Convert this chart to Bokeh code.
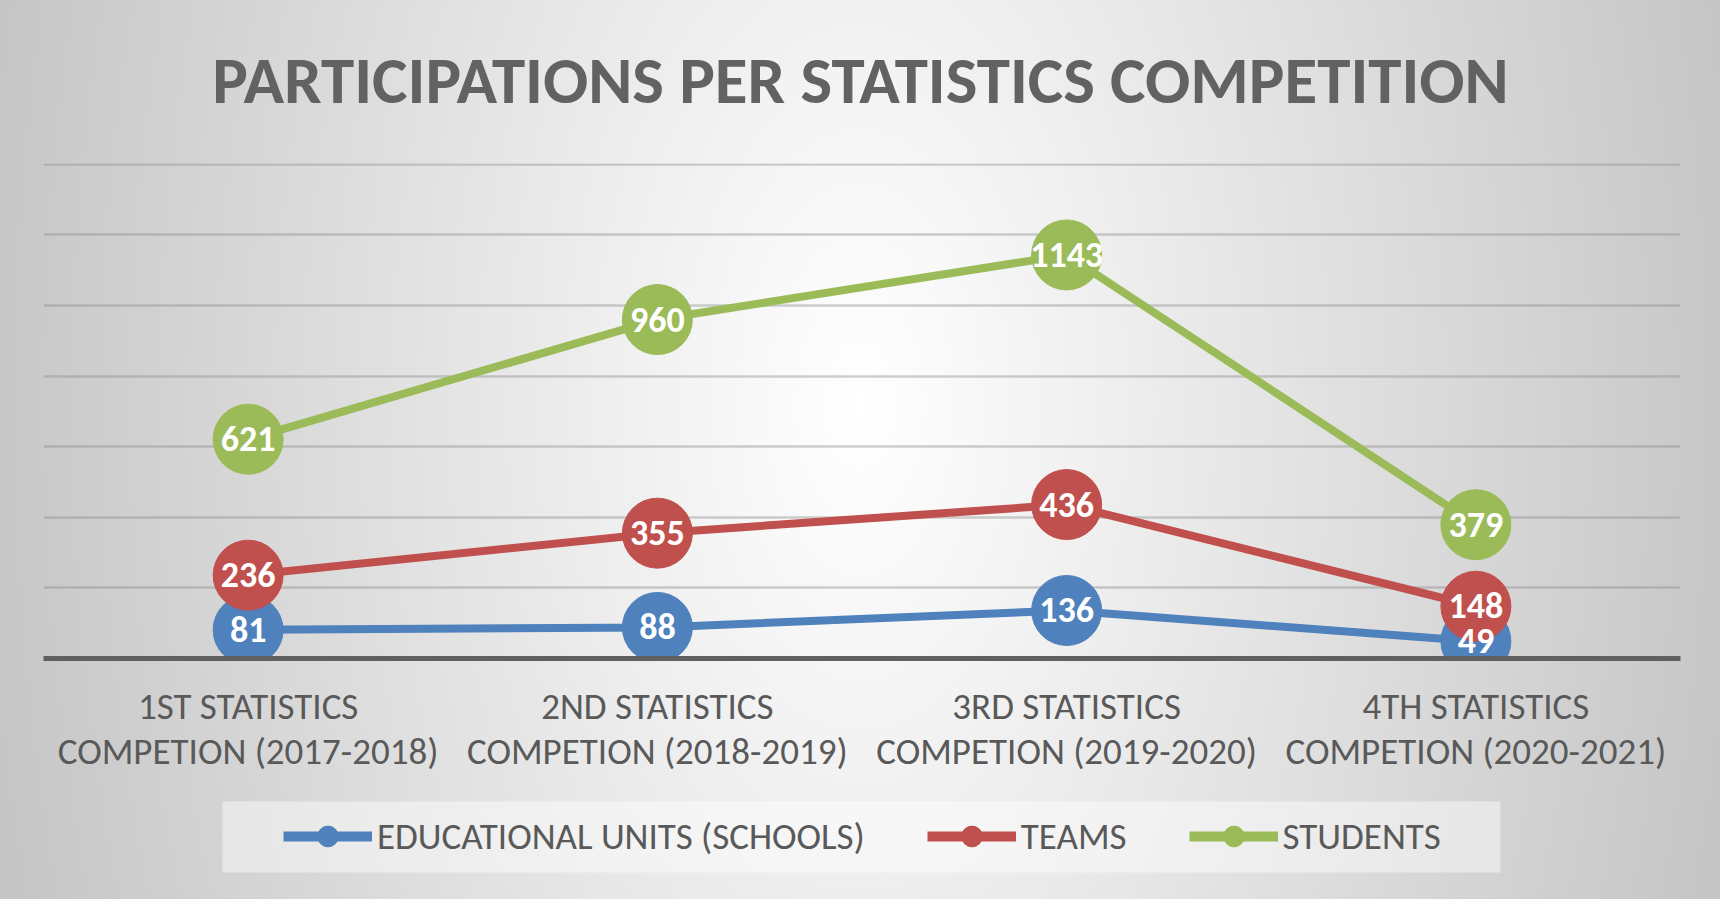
from bokeh.plotting import figure
from bokeh.embed import file_html
from bokeh.resources import INLINE
from bokeh.layouts import column
from bokeh.models import (ColumnDataSource, Legend, LegendItem, Range1d, FixedTicker, Label,
                          BoxAnnotation)
from bokeh.core.properties import value

# ---- data ----
categories = [
    "1ST STATISTICS\nCOMPETION (2017-2018)",
    "2ND STATISTICS\nCOMPETION (2018-2019)",
    "3RD STATISTICS\nCOMPETION (2019-2020)",
    "4TH STATISTICS\nCOMPETION (2020-2021)",
]
schools = [81, 88, 136, 49]
teams = [236, 355, 436, 148]
students = [621, 960, 1143, 379]
series_names = ["EDUCATIONAL UNITS (SCHOOLS)", "TEAMS", "STUDENTS"]
y_ticks = [0, 200, 400, 600, 800, 1000, 1200, 1400]
title_text = "PARTICIPATIONS PER STATISTICS COMPETITION"

colors = ["#4F81BD", "#C0504D", "#9BBB59"]
FONT = "Carlito"
GREY = "#595959"
W, HT, H1, H2 = 1720, 120, 675, 104
FL, FR = 43, 1680  # frame edges shared by all rows of the column


def strip(h):
    f = figure(width=W, height=h, x_range=Range1d(FL, FR), y_range=Range1d(0, h),
               output_backend="svg", toolbar_location=None,
               min_border_left=FL, min_border_right=W - FR, min_border_top=0, min_border_bottom=0)
    f.axis.visible = False
    f.grid.visible = False
    f.outline_line_color = None
    f.background_fill_alpha = 0
    f.border_fill_alpha = 0
    return f


# ---------------- title strip ----------------
pt = strip(HT)
pt.add_layout(Label(x=W / 2, y=41, text=title_text, text_font=FONT, text_font_size="67px",
                    text_font_style="bold", text_color="#626262", text_align="center",
                    text_baseline="alphabetic"))

# ---------------- main chart ----------------
p = figure(
    width=W, height=H1,
    x_range=categories, y_range=Range1d(0, 1402),
    output_backend="svg", toolbar_location=None, title=None,
    min_border_left=FL, min_border_right=W - FR, min_border_top=43, min_border_bottom=137,
)
p.background_fill_alpha = 0
p.border_fill_alpha = 0
p.outline_line_color = None

p.yaxis.visible = False
p.yaxis.ticker = FixedTicker(ticks=y_ticks)
p.ygrid.ticker = FixedTicker(ticks=y_ticks)
p.xgrid.visible = False
p.ygrid.grid_line_color = "#8c8c8c"
p.ygrid.grid_line_alpha = 0.42
p.ygrid.grid_line_width = 2.5

ax = p.xaxis[0]
ax.axis_line_color = "#606060"
ax.axis_line_width = 5
ax.major_tick_line_color = None
ax.minor_tick_line_color = None
ax.major_label_text_font = FONT
ax.major_label_text_font_size = "37px"
ax.major_label_text_color = GREY
ax.major_label_text_line_height = 1.02
ax.major_label_standoff = 19

for vals, col in zip([schools, teams, students], colors):
    src = ColumnDataSource(dict(x=categories, y=vals))
    p.line("x", "y", source=src, line_color=col, line_width=8)
    p.scatter("x", "y", source=src, size=70, fill_color=col, line_color=col)

for vals in [schools, teams, students]:
    src = ColumnDataSource(dict(x=categories, y=vals, t=[str(v) for v in vals]))
    p.text("x", "y", text="t", source=src, text_color="white", text_font=value(FONT),
           text_font_size="36px", text_font_style="bold", text_align="center",
           text_baseline="middle")

# ---------------- legend strip ----------------
pl = strip(H2)
pl.add_layout(BoxAnnotation(left=222, right=1500, bottom=27, top=98,
                            fill_color="white", fill_alpha=0.45, line_color=None))

nan = float("nan")
items = []
for name, col in zip(series_names, colors):
    proxy = ColumnDataSource(dict(x=[nan], y=[nan]))
    ln = pl.line("x", "y", source=proxy, line_color=col, line_width=10)
    sc = pl.scatter("x", "y", source=proxy, fill_color=col, line_color=col)
    items.append(LegendItem(label=name, renderers=[ln, sc]))

legend = Legend(items=items, orientation="horizontal", location=(240, 37),
                glyph_width=89, glyph_height=52, label_standoff=5, spacing=62,
                padding=0, margin=0,
                label_text_font=FONT, label_text_font_size="37px", label_text_color=GREY,
                background_fill_alpha=0, border_line_color=None)
pl.add_layout(legend)

layout = column(pt, p, pl, spacing=0)
layout.styles = {
    "background": "radial-gradient(ellipse 880px 1600px at 50% 45%, #ffffff 0%, #c6c6c6 100%)",
}

open("out.html", "w").write(file_html(layout, INLINE))
